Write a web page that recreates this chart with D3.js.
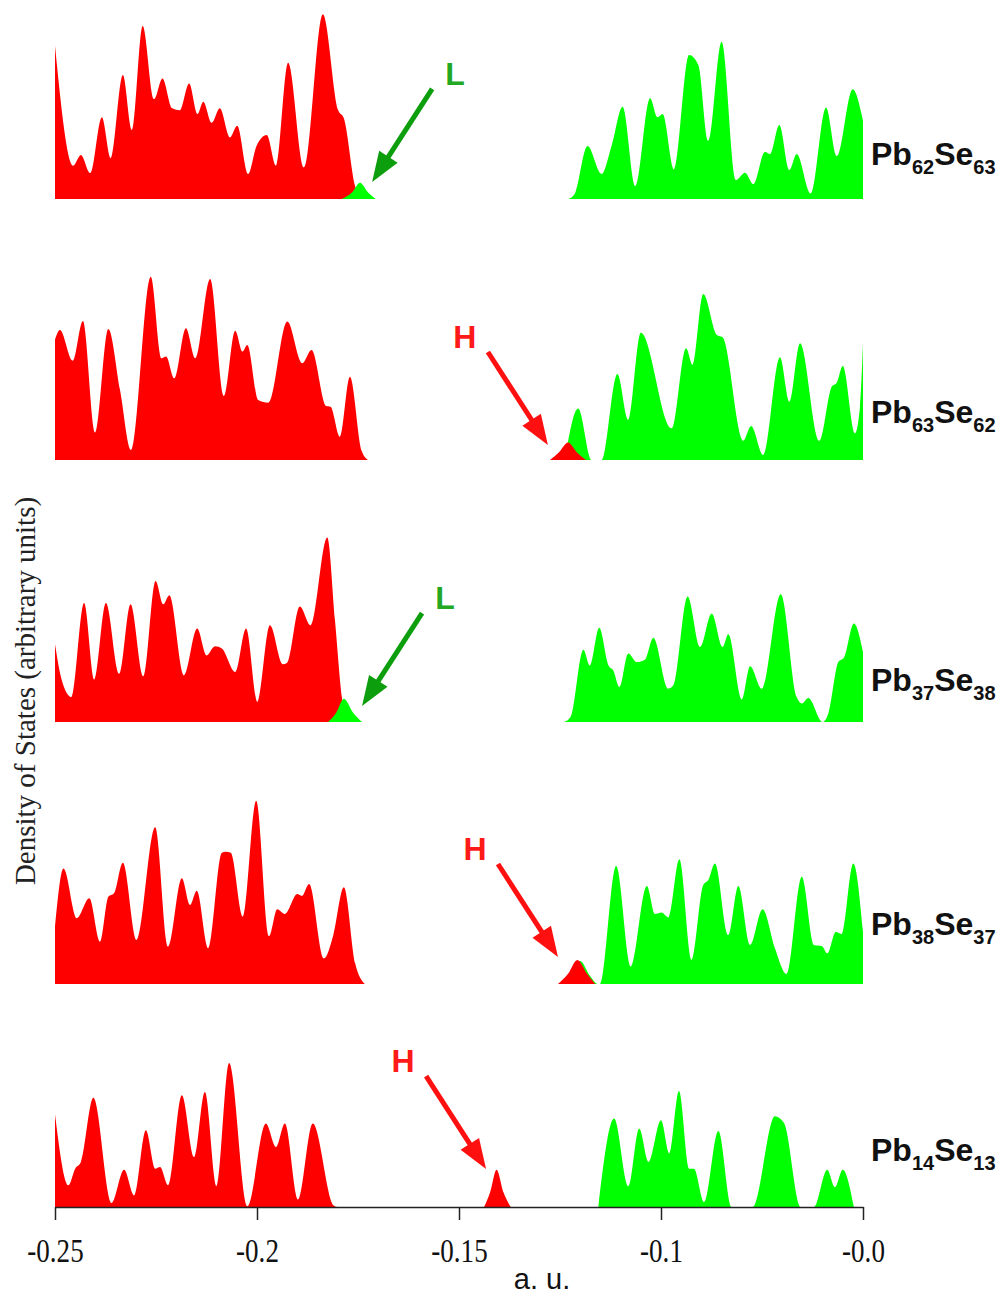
<!DOCTYPE html>
<html>
<head>
<meta charset="utf-8">
<script src="https://cdn.jsdelivr.net/npm/d3@7"></script>
<style>
  html, body { margin: 0; padding: 0; background: #ffffff; }
  svg { display: block; }
</style>
</head>
<body>
<svg id="chart" width="1002" height="1298"></svg>
<script>
// Energy axis ticks (a.u.); the axis is evenly spaced per tick
const xTickValues = [-0.25, -0.2, -0.15, -0.1, 0];
const xTickLabels = ['-0.25', '-0.2', '-0.15', '-0.1', '-0.0'];

// Density of states, [energy, DOS] pairs; red = occupied, green = unoccupied
const p1Red = [[-0.25,8.27],[-0.2455,1.8],[-0.2436,2.38],[-0.2413,1.4],[-0.2384,4.42],[-0.2362,2.2],[-0.2332,6.7],[-0.2310,3.73],[-0.2283,9.35],[-0.2255,5.4],[-0.2234,6.52],[-0.2210,4.9],[-0.2191,4.8],[-0.2168,6.25],[-0.2147,4.6],[-0.2133,5.26],[-0.2112,4.12],[-0.2092,4.9],[-0.2067,3.33],[-0.2049,3.96],[-0.2022,1.35],[-0.2001,2.88],[-0.1976,3.46],[-0.1953,1.8],[-0.1923,7.37],[-0.1884,1.71],[-0.1837,9.98],[-0.1799,4.8],[-0.1785,4.36],[-0.1757,0.67],[-0.1745,0.1],[-0.1735,0]];
const p1Green = [[-0.1229,0],[-0.1213,0.3],[-0.1182,2.86],[-0.1147,1.35],[-0.1122,2.9],[-0.1095,4.99],[-0.1064,0.7],[-0.1027,5.44],[-0.1009,4.42],[-0.0992,4.6],[-0.0936,1.6],[-0.0861,7.78],[-0.0815,7.24],[-0.0766,3.15],[-0.0700,8.5],[-0.0629,1.03],[-0.0584,1.42],[-0.0543,0.8],[-0.0485,2.56],[-0.0460,2.43],[-0.0414,4.0],[-0.0365,1.57],[-0.0328,2.43],[-0.0259,0.3],[-0.0183,4.95],[-0.0130,2.32],[-0.0051,5.93],[0,4.23]];
const p1Edge = [[-0.1790,0],[-0.1765,0.35],[-0.1745,0.88],[-0.1725,0.35],[-0.1706,0]];

const p2Red = [[-0.25,6.52],[-0.2488,7.03],[-0.2456,5.37],[-0.2431,7.51],[-0.2401,1.48],[-0.2368,7.08],[-0.2339,3.78],[-0.2312,0.54],[-0.2263,9.91],[-0.2236,5.5],[-0.2225,5.59],[-0.2205,4.41],[-0.2176,7.12],[-0.2153,5.5],[-0.2116,9.78],[-0.2082,3.46],[-0.2054,6.99],[-0.2036,5.86],[-0.2024,6.22],[-0.1997,3.24],[-0.1972,3.1],[-0.1925,7.48],[-0.1888,5.23],[-0.1865,5.95],[-0.1829,2.92],[-0.1818,2.88],[-0.1795,1.26],[-0.1770,4.5],[-0.1741,0.5],[-0.1725,0]];
const p2Green = [[-0.1238,0],[-0.1205,2.79],[-0.1172,0],[-0.1147,0],[-0.1108,4.65],[-0.1081,2.16],[-0.1050,6.88],[-0.0947,1.71],[-0.0876,6.04],[-0.0843,5.14],[-0.0791,8.97],[-0.0724,6.76],[-0.0695,6.63],[-0.0593,1.04],[-0.0554,1.84],[-0.0494,0.27],[-0.0411,5.55],[-0.0365,3.15],[-0.0312,6.31],[-0.0216,1.04],[-0.0155,3.96],[-0.0130,4.18],[-0.0100,5.08],[-0.0040,1.44],[-0.0015,2.88],[0,6.3]];
const p2Edge = [[-0.1275,0],[-0.1253,0.4],[-0.1230,0.94],[-0.1208,0.4],[-0.1186,0]];

const p3Red = [[-0.25,4.2],[-0.2483,2.25],[-0.2459,1.35],[-0.2428,6.43],[-0.2403,2.29],[-0.2374,6.43],[-0.2341,2.61],[-0.2313,6.36],[-0.2281,2.47],[-0.2251,7.62],[-0.2232,6.36],[-0.2217,6.85],[-0.2181,2.52],[-0.2148,5.05],[-0.2125,3.6],[-0.2104,4.09],[-0.2087,3.97],[-0.2054,2.7],[-0.2027,5.05],[-0.1999,1.08],[-0.1968,5.23],[-0.1936,3.12],[-0.1926,3.19],[-0.1894,6.25],[-0.1867,5.23],[-0.1826,9.97],[-0.1807,5.5],[-0.1790,1.35],[-0.1780,0]];
const p3Green = [[-0.1240,0],[-0.1224,0.27],[-0.1192,3.91],[-0.1176,3.06],[-0.1153,5.1],[-0.1130,3.06],[-0.1118,2.79],[-0.1103,1.89],[-0.1081,3.7],[-0.1060,3.24],[-0.1040,3.37],[-0.1019,4.56],[-0.0964,1.8],[-0.0939,1.98],[-0.0868,6.79],[-0.0807,4.05],[-0.0749,5.86],[-0.0695,4.05],[-0.0667,4.74],[-0.0600,1.21],[-0.0559,3.01],[-0.0501,1.8],[-0.0407,6.9],[-0.0328,1.35],[-0.0303,1.0],[-0.0271,1.3],[-0.0200,0],[-0.0172,0.45],[-0.0122,3.24],[-0.0094,3.48],[-0.0045,5.32],[0,3.78]];
const p3Edge = [[-0.1824,0],[-0.1804,0.5],[-0.1785,1.26],[-0.1762,0.5],[-0.1740,0]];

const p4Red = [[-0.25,3.14],[-0.2479,6.25],[-0.2446,3.55],[-0.2415,4.63],[-0.2389,2.29],[-0.2368,4.72],[-0.2354,4.9],[-0.2332,6.56],[-0.2298,2.38],[-0.2252,8.47],[-0.2220,2.02],[-0.2186,5.71],[-0.2166,4.27],[-0.2149,5.04],[-0.2121,1.93],[-0.2087,7.1],[-0.2077,7.15],[-0.2065,7.1],[-0.2035,3.64],[-0.2002,9.91],[-0.1970,2.59],[-0.1950,4.04],[-0.1931,3.78],[-0.1900,4.86],[-0.1889,4.76],[-0.1871,5.41],[-0.1834,1.39],[-0.1811,2.65],[-0.1785,5.23],[-0.1757,1.12],[-0.1733,0]];
const p4Green = [[-0.1225,0],[-0.1200,1.25],[-0.1176,0.45],[-0.1156,0],[-0.1151,0],[-0.1111,6.38],[-0.1075,0.94],[-0.1035,5.3],[-0.1015,3.78],[-0.0997,3.86],[-0.0964,3.6],[-0.0909,6.74],[-0.0848,1.3],[-0.0791,5.35],[-0.0766,5.62],[-0.0733,6.52],[-0.0667,2.65],[-0.0617,5.3],[-0.0559,2.11],[-0.0497,4.04],[-0.0436,1.93],[-0.0378,0.54],[-0.0303,5.8],[-0.0243,2.11],[-0.0204,2.05],[-0.0177,1.66],[-0.0134,2.83],[-0.0105,2.7],[-0.0048,6.52],[0,2.83]];
const p4Edge = [[-0.1255,0],[-0.1230,0.55],[-0.1207,1.3],[-0.1183,0.55],[-0.1163,0]];

const p5Red = [[-0.25,5.01],[-0.2467,1.17],[-0.2450,2.07],[-0.2436,2.43],[-0.2405,5.91],[-0.2360,0.22],[-0.2329,2.02],[-0.2304,0.63],[-0.2275,4.15],[-0.2252,2.07],[-0.2240,2.16],[-0.2220,1.17],[-0.2186,6.04],[-0.2156,2.7],[-0.2129,6.22],[-0.2100,1.12],[-0.2069,7.78],[-0.2024,0.04],[-0.1978,4.51],[-0.1953,3.24],[-0.1931,4.51],[-0.1898,0.4],[-0.1862,4.51],[-0.1811,0.09],[-0.1802,0]];
const p5Green = [[-0.1155,0],[-0.1116,4.78],[-0.1081,1.12],[-0.1054,4.24],[-0.1031,2.43],[-0.1000,4.69],[-0.0959,2.89],[-0.0911,6.27],[-0.0860,2.07],[-0.0837,2.07],[-0.0787,0.27],[-0.0716,4.11],[-0.0650,0],[-0.0546,0],[-0.0436,4.9],[-0.0391,4.54],[-0.0308,0],[-0.0243,0],[-0.0177,2.02],[-0.0139,1.08],[-0.0100,2.02],[-0.0045,0]];
const p5Edge = [[-0.1438,0],[-0.1423,0.8],[-0.1407,2.02],[-0.1390,0.8],[-0.1372,0]];

// Cluster names (element counts) and the band-edge state each arrow marks
const clusterPb = ['62', '63', '37', '38', '14'];
const clusterSe = ['63', '62', '38', '37', '13'];
const edgeLabels = ['L', 'H', 'L', 'H', 'H'];
const edgeTip = [[-0.1715, 0.92], [-0.1280, 0.81], [-0.1740, 0.86], [-0.1255, 1.46], [-0.1433, 2.05]];

const panels = [
  { red: p1Red, green: p1Green, edge: p1Edge },
  { red: p2Red, green: p2Green, edge: p2Edge },
  { red: p3Red, green: p3Green, edge: p3Edge },
  { red: p4Red, green: p4Green, edge: p4Edge },
  { red: p5Red, green: p5Green, edge: p5Edge }
];

const RED = '#ff0000', GREEN = '#00ff00';
const ARROW = { L: '#0c9e0c', H: '#ff1010' };
const LABEL = { L: '#22a822', H: '#ff1a1a' };

const svg = d3.select('#chart');
// piecewise scale: every labelled tick sits 202 px from the next
const x = d3.scaleLinear().domain([-0.25, -0.1, 0]).range([55, 661, 863]);
const baselines = [199, 460, 722, 984, 1207];
const panelHeight = 185; // pixels for 10 DOS units

panels.forEach((p, i) => {
  const base = baselines[i];
  const y = d3.scaleLinear().domain([0, 10]).range([base, base - panelHeight]);
  const area = d3.area()
    .x(d => x(d[0]))
    .y0(base)
    .y1(d => y(d[1]))
    .curve(d3.curveMonotoneX);
  const g = svg.append('g').attr('class', 'panel');
  const edgeIsH = edgeLabels[i] === 'H';
  g.append('path').attr('d', area(p.red)).attr('fill', RED);
  g.append('path').attr('d', area(p.green)).attr('fill', GREEN);
  g.append('path').attr('d', area(p.edge)).attr('fill', edgeIsH ? RED : GREEN);

  // arrow pointing at the band-edge state
  const tip = [x(edgeTip[i][0]), y(edgeTip[i][1])];
  const dir = edgeIsH ? -1 : 1;
  const tail = [tip[0] + dir * 60, tip[1] - 93];
  const len = Math.hypot(tail[0] - tip[0], tail[1] - tip[1]);
  const ux = (tip[0] - tail[0]) / len, uy = (tip[1] - tail[1]) / len;
  const headLen = 30, headHalf = 11;
  const bx = tip[0] - ux * headLen, by = tip[1] - uy * headLen;
  const col = ARROW[edgeLabels[i]];
  g.append('line')
    .attr('x1', tail[0]).attr('y1', tail[1])
    .attr('x2', bx + ux * 2).attr('y2', by + uy * 2)
    .attr('stroke', col).attr('stroke-width', 5);
  g.append('path')
    .attr('d', `M${tip[0]},${tip[1]}L${bx - uy * headHalf},${by + ux * headHalf}L${bx + uy * headHalf},${by - ux * headHalf}Z`)
    .attr('fill', col);
  g.append('text')
    .attr('x', tip[0] + dir * 83).attr('y', tip[1] - 97)
    .attr('text-anchor', 'middle')
    .attr('font-family', 'Liberation Sans, Arial, sans-serif')
    .attr('font-weight', 'bold').attr('font-size', 32)
    .attr('fill', LABEL[edgeLabels[i]])
    .text(edgeLabels[i]);

  // cluster formula at the right
  const labelY = [165, 423, 691, 935, 1161][i];
  const t = g.append('text')
    .attr('transform', `translate(871,${labelY})`)
    .attr('font-family', 'Liberation Sans, Arial, sans-serif')
    .attr('font-weight', 'bold').attr('font-size', 32)
    .attr('fill', '#111');
  t.append('tspan').text('Pb');
  t.append('tspan').attr('font-size', 20).attr('dy', 9).text(clusterPb[i]);
  t.append('tspan').attr('dy', -9).text('Se');
  t.append('tspan').attr('font-size', 20).attr('dy', 9).text(clusterSe[i]);
});

// energy axis
const axis = svg.append('g')
  .attr('transform', 'translate(0,1207)')
  .call(d3.axisBottom(x)
    .tickValues(xTickValues)
    .tickFormat((d, i) => xTickLabels[i])
    .tickSize(13)
    .tickSizeOuter(0)
    .tickPadding(19));
axis.select('.domain').attr('stroke', '#222').attr('stroke-width', 1.5);
axis.selectAll('.tick line').attr('stroke', '#222').attr('stroke-width', 1.5);
axis.selectAll('.tick text')
  .attr('font-family', 'Liberation Serif, Times New Roman, serif')
  .attr('font-size', 33)
  .attr('fill', '#111')
  .attr('transform', 'scale(0.82,1)');

svg.append('text')
  .attr('x', 542).attr('y', 1289)
  .attr('text-anchor', 'middle')
  .attr('font-family', 'Liberation Sans, Arial, sans-serif')
  .attr('font-size', 29)
  .attr('fill', '#111')
  .text('a. u.');

svg.append('text')
  .attr('transform', 'translate(35,691) rotate(-90)')
  .attr('text-anchor', 'middle')
  .attr('font-family', 'Liberation Serif, Times New Roman, serif')
  .attr('font-size', 29)
  .attr('fill', '#222')
  .text('Density of States (arbitrary units)');
</script>
</body>
</html>
